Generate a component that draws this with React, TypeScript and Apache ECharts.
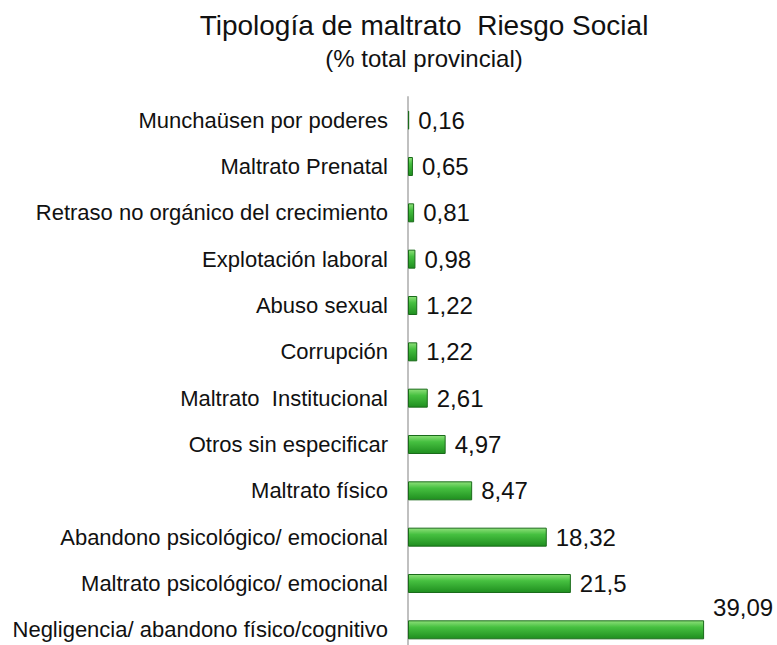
import React, { useEffect, useRef } from "react";
import * as echarts from "echarts";

const categories = [
  "Munchaüsen por poderes",
  "Maltrato Prenatal",
  "Retraso no orgánico del crecimiento",
  "Explotación laboral",
  "Abuso sexual",
  "Corrupción",
  "Maltrato  Institucional",
  "Otros sin especificar",
  "Maltrato físico",
  "Abandono psicológico/ emocional",
  "Maltrato psicológico/ emocional",
  "Negligencia/ abandono físico/cognitivo",
];
const values = [0.16, 0.65, 0.81, 0.98, 1.22, 1.22, 2.61, 4.97, 8.47, 18.32, 21.5, 39.09];

const titleText = "Tipología de maltrato  Riesgo Social";
const subtitleText = "(% total provincial)";

const fmt = (v: number) => String(v).replace(".", ",");

export default function App() {
  const ref = useRef<HTMLDivElement>(null);
  useEffect(() => {
    if (!ref.current) return;
    const chart = echarts.init(ref.current, undefined, { renderer: "svg" });
    const barColor = new echarts.graphic.LinearGradient(0, 0, 0, 1, [
      { offset: 0, color: "#8ee07a" },
      { offset: 0.35, color: "#46c040" },
      { offset: 1, color: "#1f8e1f" },
    ]);
    const lastIdx = values.length - 1;
    chart.setOption({
      animation: false,
      backgroundColor: "#ffffff",
      title: {
        text: titleText,
        subtext: subtitleText,
        left: 419,
        top: 6,
        textAlign: "center",
        itemGap: 7,
        textStyle: {
          fontFamily: "Liberation Sans",
          fontSize: 28,
          fontWeight: "normal",
          color: "#111111",
        },
        subtextStyle: {
          fontFamily: "Liberation Sans",
          fontSize: 24,
          color: "#111111",
        },
      },
      grid: {
        left: 408,
        width: 303,
        top: 97,
        height: 556,
        containLabel: false,
        outerBoundsMode: "none",
      },
      xAxis: {
        type: "value",
        min: 0,
        max: 40,
        show: false,
      },
      yAxis: {
        type: "category",
        data: categories,
        inverse: true,
        axisLine: { show: true, lineStyle: { color: "#c0c0c0", width: 2 } },
        axisTick: { show: false },
        axisLabel: {
          margin: 20,
          fontFamily: "Liberation Sans",
          fontSize: 22,
          color: "#111111",
        },
      },
      series: [
        {
          type: "bar",
          data: values.map((v, i) =>
            i === lastIdx
              ? { value: v, label: { offset: [0, -22] } }
              : { value: v }
          ),
          barWidth: 19,
          itemStyle: {
            color: barColor,
            borderColor: "#1a6b1a",
            borderWidth: 1,
          },
          label: {
            show: true,
            position: "right",
            distance: 9,
            formatter: (p: any) => fmt(p.value),
            fontFamily: "Liberation Sans",
            fontSize: 24,
            color: "#111111",
          },
        },
      ],
    });
    return () => chart.dispose();
  }, []);
  return (
    <div
      ref={ref}
      style={{ position: "fixed", left: 0, top: 0, width: 777, height: 665 }}
    />
  );
}
